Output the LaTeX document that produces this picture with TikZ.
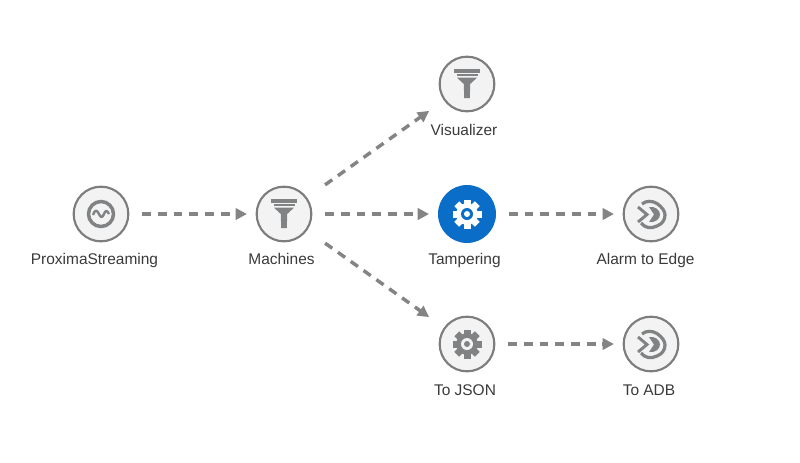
\documentclass[tikz,border=0pt]{standalone}
\usepackage{fontspec}
\setmainfont{Liberation Sans}
\usetikzlibrary{arrows.meta}
\definecolor{iconc}{RGB}{128,130,132}
\definecolor{ringc}{RGB}{125,125,125}
\definecolor{fillc}{RGB}{243,243,243}
\definecolor{linkc}{RGB}{132,132,132}
\definecolor{bluec}{RGB}{10,110,200}
\definecolor{textc}{RGB}{58,58,58}
\tikzset{
  x=0.75pt,y=-0.75pt,
  stage/.style={circle,draw=ringc,line width=1.6pt,fill=fillc,minimum size=41pt,inner sep=0pt},
  active/.style={circle,fill=bluec,minimum size=43.5pt,inner sep=0pt},
  caption/.style={font=\fontsize{11.6}{13}\selectfont,text=textc,anchor=base},
  link/.style={draw=linkc,line width=2.6pt,dash pattern=on 6.6pt off 5.2pt,
    -{Triangle[length=8.5pt,width=8.5pt,sep=0pt]}},
  near/.style={shorten <=9.5pt,shorten >=6.5pt},
  far/.style={shorten <=16.5pt,shorten >=13.5pt},
  pics/funnel/.style={code={
    \draw[iconc,line width=2.4pt] (-13,-13)--(13,-13);
    \draw[iconc,line width=1.7pt] (-10.5,-8.8)--(10.5,-8.8);
    \fill[iconc] (-10,-6.3)--(10,-6.3)--(3.2,0)--(2.8,14)--(-2.8,14)--(-3.2,0)--cycle;
  }},
  pics/wave/.style={code={
    \draw[iconc,line width=2.6pt] (0,0) circle (12.5);
    \draw[iconc,line width=1.8pt,line join=round]
      (-8,1) .. controls (-6,-5) and (-4,-4) .. (-2,0)
      .. controls (0,4) and (1,4) .. (3,0)
      .. controls (4.5,-4) and (6,-4) .. (8,0);
  }},
  pics/gear/.style={code={
    \foreach \a in {0,45,...,315}{
      \fill[#1,rotate=\a] (-3.5,-14.5) rectangle (3.5,-8);
    }
    \fill[#1] (0,0) circle (10.8);
    \fill[pic actions] (0,0) circle (6);
    \fill[#1] (0,0) circle (3);
  }},
  pics/target/.style={code={
    \draw[iconc,line width=2.4pt] (-9,-10) .. controls (-5,-13.5) and (1,-13.5) .. (6,-10.5)
      .. controls (11,-7) and (14,-3) .. (14,1)
      .. controls (14,6) and (11,10) .. (6,12)
      .. controls (0,15) and (-6,14) .. (-10,9);
    \fill[iconc] (-2,-7) .. controls (4,-8) and (9,-4) .. (9,0.5)
      .. controls (9,5) and (4,9) .. (-2,8) -- (3,0.5) -- cycle;
    \draw[iconc,line width=2.2pt,line join=miter] (-13,-7) -- (-4,0.5) -- (-13,8);
  }}
}
\begin{document}
\begin{tikzpicture}
\useasboundingbox (0,0) rectangle (800,462);
\node[stage] (ps) at (101,214) {};
\node[stage] (mach) at (284,214) {};
\node[stage] (vis) at (467,84) {};
\node[active] (tamp) at (467,214) {};
\node[stage] (alarm) at (651,214) {};
\node[stage] (json) at (467,344) {};
\node[stage] (adb) at (651,344) {};
\pic at (ps) {wave};
\pic at (mach) {funnel};
\pic at (vis) {funnel};
\pic[fill=bluec] at (tamp) {gear=white};
\pic at (alarm) {target};
\pic[fill=fillc] at (json) {gear=iconc};
\pic at (adb) {target};
\node[caption] (ps-t) at (94.5,264) {ProximaStreaming};
\node[caption] (mach-t) at (281.5,264) {Machines};
\node[caption] (vis-t) at (464,135) {Visualizer};
\node[caption] (tamp-t) at (464.5,264) {Tampering};
\node[caption] (alarm-t) at (645.5,264) {Alarm to Edge};
\node[caption] (json-t) at (465,395) {To JSON};
\node[caption] (adb-t) at (649,395) {To ADB};
\draw[link,near] (ps) -- (mach);
\draw[link,near] (mach) -- (tamp);
\draw[link,near] (tamp) -- (alarm);
\draw[link,near] (json) -- (adb);
\draw[link,far] (mach) -- (vis);
\draw[link,far] (mach) -- (json);
\end{tikzpicture}
\end{document}
